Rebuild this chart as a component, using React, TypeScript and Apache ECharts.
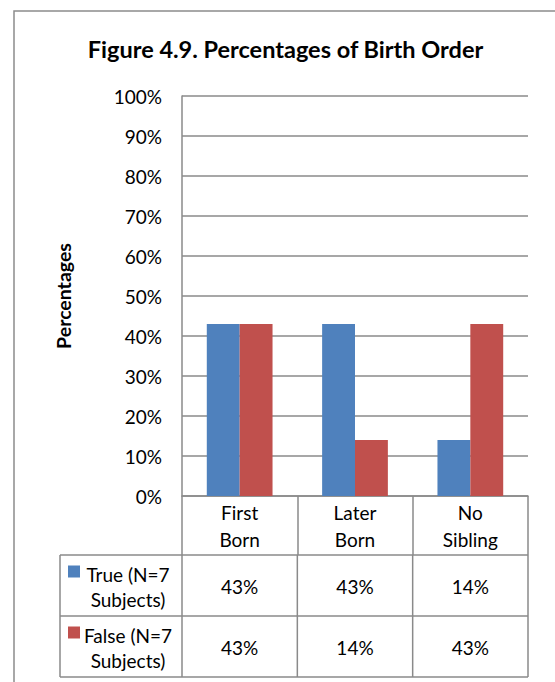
import React, { useEffect, useRef } from "react";
import * as echarts from "echarts";

const title = "Figure 4.9. Percentages of Birth Order";
const yAxisTitle = "Percentages";
const categories = ["First\nBorn", "Later\nBorn", "No\nSibling"];
const seriesNames = ["True (N=7\nSubjects)", "False (N=7\nSubjects)"];
const trueValues = [43, 43, 14];
const falseValues = [43, 14, 43];
const seriesColors = ["#4f81bd", "#c0504d"];
const yMin = 0;
const yMax = 100;
const yStep = 10;

const FONT = "Lato";
const LINE = "#8a8a8a";

export default function App() {
  const ref = useRef<HTMLDivElement>(null);
  useEffect(() => {
    if (!ref.current) return;
    const chart = echarts.init(ref.current, null, { renderer: "svg" });
    const gridLeft = 182;
    const gridTop = 96;
    const gridRight = 27;
    const gridBottom = 186;
    const allSeries = [trueValues, falseValues];
    chart.setOption({
      animation: false,
      backgroundColor: "#ffffff",
      grid: { left: gridLeft, top: gridTop, right: gridRight, bottom: gridBottom, containLabel: false },
      xAxis: {
        type: "category",
        data: categories,
        axisLine: { show: true, lineStyle: { color: LINE, width: 1.5 } },
        axisTick: { show: true, length: 59, lineStyle: { color: LINE, width: 1.5 } },
        axisLabel: { show: false },
      },
      yAxis: {
        type: "value",
        min: yMin,
        max: yMax,
        interval: yStep,
        axisLine: { show: true, lineStyle: { color: LINE, width: 1.5 } },
        axisTick: { show: false },
        axisLabel: {
          formatter: "{value}%",
          fontSize: 19,
          fontFamily: FONT,
          color: "#000",
          margin: 20,
        },
        splitLine: { show: true, lineStyle: { color: LINE, width: 1.5 } },
      },
      series: allSeries.map((vals, si) => ({
        type: "bar",
        name: seriesNames[si],
        data: vals,
        barGap: "0%",
        barCategoryGap: "43%",
        itemStyle: { color: seriesColors[si] },
      })),
    });

    // Build data table using the chart's own scale
    const centers = categories.map((_, i) => chart.convertToPixel({ gridIndex: 0 }, [i, 0]) as number[]);
    const step = centers.length > 1 ? centers[1][0] - centers[0][0] : 115;
    const axisY = centers[0][1];
    const bounds = [centers[0][0] - step / 2, ...centers.map((c) => c[0] + step / 2)];
    const tableLeft = 60;
    const headerBottom = axisY + 59;
    const rowH = 61;
    const rowsBottom = headerBottom + rowH * seriesNames.length;
    const lineStyle = { stroke: LINE, lineWidth: 1.5 };
    const g: any[] = [];

    // outer frame
    g.push({ type: "rect", shape: { x: 14, y: 11, width: 600, height: 700 }, style: { fill: "none", stroke: "#8c8c8c", lineWidth: 1.5 }, silent: true });
    // title
    g.push({ type: "text", x: 285.5, y: 49, style: { text: title, font: `bold 23.5px ${FONT}`, fill: "#000", align: "center", verticalAlign: "middle" } });
    // y axis name
    g.push({ type: "text", x: 63, y: (gridTop + axisY) / 2, rotation: Math.PI / 2, style: { text: yAxisTitle, font: `bold 19.5px ${FONT}`, fill: "#000", align: "center", verticalAlign: "middle" } });

    // category headers
    categories.forEach((c, i) => {
      g.push({ type: "text", x: centers[i][0], y: axisY + 30, style: { text: c, font: `19px ${FONT}`, fill: "#000", align: "center", verticalAlign: "middle", lineHeight: 27 } });
    });

    // horizontal lines
    for (let r = 0; r <= seriesNames.length; r++) {
      const y = headerBottom + rowH * r;
      g.push({ type: "line", shape: { x1: tableLeft, y1: y, x2: bounds[bounds.length - 1], y2: y }, style: lineStyle });
    }
    // vertical lines in rows
    g.push({ type: "line", shape: { x1: tableLeft, y1: headerBottom, x2: tableLeft, y2: rowsBottom }, style: lineStyle });
    bounds.forEach((bx) => {
      g.push({ type: "line", shape: { x1: bx, y1: headerBottom, x2: bx, y2: rowsBottom }, style: lineStyle });
    });

    // rows
    seriesNames.forEach((name, si) => {
      const cy = headerBottom + rowH * si + rowH / 2;
      g.push({ type: "rect", shape: { x: 68, y: cy - 20, width: 12, height: 12 }, style: { fill: seriesColors[si] } });
      g.push({ type: "text", x: 128, y: cy + 1, style: { text: name, font: `19px ${FONT}`, fill: "#000", align: "center", verticalAlign: "middle", lineHeight: 25 } });
      allSeries[si].forEach((v, i) => {
        g.push({ type: "text", x: centers[i][0], y: cy + 1, style: { text: `${v}%`, font: `19px ${FONT}`, fill: "#000", align: "center", verticalAlign: "middle" } });
      });
    });

    chart.setOption({ graphic: g });
    return () => chart.dispose();
  }, []);
  return <div ref={ref} style={{ position: "absolute", left: 0, top: 0, width: 555, height: 682 }} />;
}
